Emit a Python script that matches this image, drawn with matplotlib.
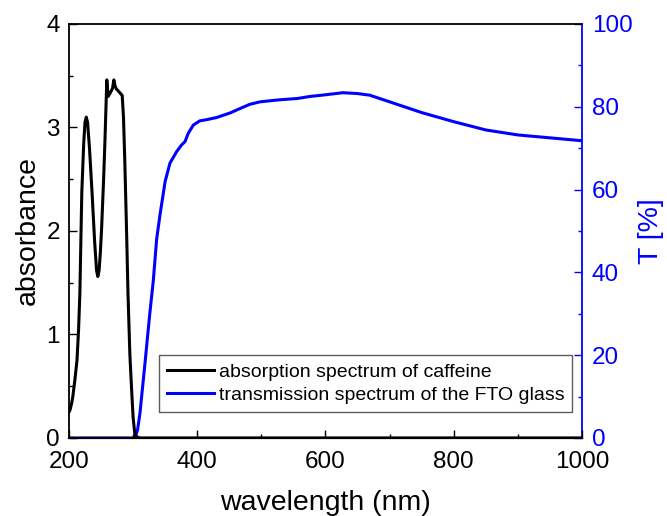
import matplotlib
matplotlib.use("Agg")
import matplotlib.pyplot as plt
from matplotlib.ticker import MultipleLocator

plt.rcParams['font.family'] = ['Liberation Sans', 'DejaVu Sans']

# caffeine absorption spectrum (wavelength nm, absorbance)
abs_wl = [200, 201.6, 204, 206, 209, 212.5, 215, 217, 220, 223, 225, 227, 229, 232, 236, 240, 243,
          245, 247, 249, 251, 254, 256, 259, 261, 264, 268, 270, 272, 274, 276, 280, 283, 285,
          287, 290, 292, 295, 298, 300, 303, 310, 400, 600, 800, 1000]
abs_val = [0.25, 0.27, 0.33, 0.40, 0.55, 0.75, 1.05, 1.4, 2.37, 2.85, 3.05, 3.1, 3.05, 2.8, 2.37, 1.9, 1.62,
           1.56, 1.62, 1.8, 2.04, 2.5, 2.85, 3.46, 3.3, 3.33, 3.38, 3.46, 3.40, 3.37, 3.36, 3.33, 3.31, 3.1,
           2.69, 1.95, 1.4, 0.8, 0.43, 0.2, 0.02, 0, 0, 0, 0, 0]

# FTO glass transmission spectrum (wavelength nm, T %)
tr_wl = [200, 250, 300, 303, 307, 310.7, 318.5, 326, 331.5, 336.7, 342, 350, 357.5, 368, 375.7, 381,
         386, 394, 404, 415, 430, 451, 467, 482, 498, 529, 556, 576, 600, 627, 650, 669, 700, 750,
         800, 850, 900, 950, 1000]
tr_val = [0, 0, 0, 0, 2, 6, 18, 30, 38, 48, 54, 62, 66.4, 69.2, 70.8, 71.6,
          73.6, 75.6, 76.6, 76.9, 77.4, 78.5, 79.6, 80.6, 81.2, 81.7, 82.0, 82.5, 82.9, 83.4, 83.2, 82.8, 81.2, 78.6,
          76.4, 74.4, 73.2, 72.5, 71.8]

fig = plt.figure(figsize=(6.67, 5.16), dpi=100)
ax = fig.add_axes([0.1034, 0.1512, 0.7692, 0.8023])
ax2 = ax.twinx()

l1, = ax.plot(abs_wl, abs_val, color='black', lw=2.2, label='absorption spectrum of caffeine', zorder=3)
l2, = ax2.plot(tr_wl, tr_val, color='#0000ff', lw=2.2, label='transmission spectrum of the FTO glass')

ax.set_xlim(200, 1000)
ax.set_ylim(0, 4)
ax2.set_ylim(0, 100)
ax.set_zorder(ax2.get_zorder() + 1)
ax.patch.set_visible(False)

ax.xaxis.set_major_locator(MultipleLocator(200))
ax.xaxis.set_minor_locator(MultipleLocator(100))
ax.yaxis.set_major_locator(MultipleLocator(1))
ax.yaxis.set_minor_locator(MultipleLocator(0.5))
ax2.yaxis.set_major_locator(MultipleLocator(20))
ax2.yaxis.set_minor_locator(MultipleLocator(10))

fs = 17.5
lfs = 20.5
ax.tick_params(axis='both', which='major', direction='in', length=6, width=1, labelsize=fs)
ax.tick_params(axis='both', which='minor', direction='in', length=3, width=1)
ax.tick_params(axis='x', which='major', pad=9.5)
ax.tick_params(axis='y', which='major', pad=6.5)
ax.tick_params(axis='y', which='both', right=False)
ax2.tick_params(axis='y', which='major', direction='in', length=6, width=1, labelsize=fs,
                colors='#0000ff', pad=7)
ax2.tick_params(axis='y', which='minor', direction='in', length=3, width=1, colors='#0000ff')

for s in ['left', 'top']:
    ax.spines[s].set_linewidth(1.3)
ax.spines['bottom'].set_linewidth(1.6)
ax.spines['right'].set_visible(False)
ax2.spines['right'].set_color('#0000ff')
ax2.spines['right'].set_linewidth(1.3)
for s in ['left', 'bottom', 'top']:
    ax2.spines[s].set_visible(False)

ax.set_xlabel('wavelength (nm)', fontsize=lfs, labelpad=12)
ax.set_ylabel('absorbance', fontsize=lfs, labelpad=4)
ax2.set_ylabel('T [%]', fontsize=lfs, color='#0000ff', labelpad=4)

leg = ax.legend(handles=[l1, l2], loc='lower right', bbox_to_anchor=(0.9805, 0.0628),
                fontsize=14, frameon=True, fancybox=False, edgecolor='#333333',
                handlelength=2.4, handletextpad=0.26, borderpad=0.4, labelspacing=0.3,
                borderaxespad=0)
leg.get_frame().set_linewidth(1.0)

fig.savefig('out.png', dpi=100)
